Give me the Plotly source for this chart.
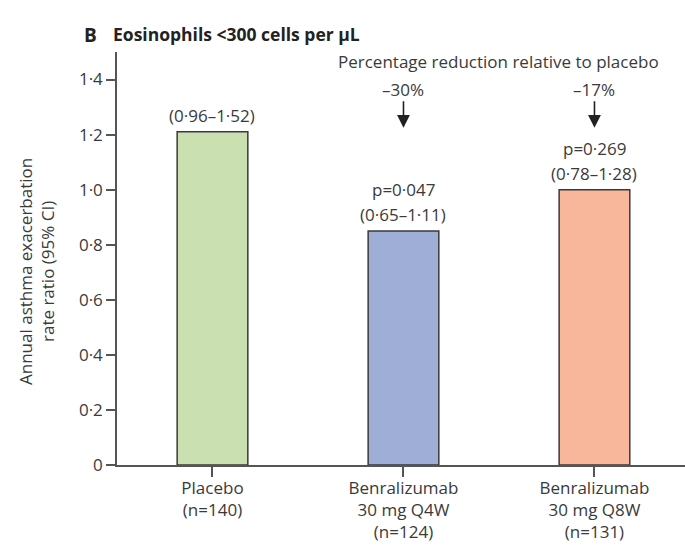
import plotly.graph_objects as go

# Data
groups = ["Placebo", "Benralizumab 30 mg Q4W", "Benralizumab 30 mg Q8W"]
group_labels = ["Placebo<br>(n=140)",
                "Benralizumab<br>30 mg Q4W<br>(n=124)",
                "Benralizumab<br>30 mg Q8W<br>(n=131)"]
rate_ratio = [1.21, 0.85, 1.00]
ci_text = ["(0·96–1·52)", "(0·65–1·11)", "(0·78–1·28)"]
p_text = ["", "p=0·047", "p=0·269"]
reduction_text = ["", "–30%", "–17%"]
bar_colors = ["#cbe0b1", "#9eaed6", "#f8b69a"]
y_ticks = [0, 0.2, 0.4, 0.6, 0.8, 1.0, 1.2, 1.4]

W, H = 685, 549
ML, MR, MT, MB = 117, 0, 52, 84
FONT = "Open Sans"
TXT = "#3a3a3a"
FS = 17

def dot(v):
    return "0" if v == 0 else f"{v:.1f}".replace(".", "·")

fig = go.Figure(go.Bar(
    x=list(range(len(groups))),
    y=rate_ratio,
    width=0.37,
    marker=dict(color=bar_colors, line=dict(color="#3a3a3a", width=1.5)),
    hoverinfo="skip",
))

annotations = []
for i, v in enumerate(rate_ratio):
    # confidence interval just above the bar, p-value on the line above it
    annotations.append(dict(x=i, y=v, xref="x", yref="y", text=ci_text[i],
                            showarrow=False, yanchor="bottom", yshift=3,
                            font=dict(size=FS, color=TXT, family=FONT)))
    if p_text[i]:
        annotations.append(dict(x=i, y=v, xref="x", yref="y", text=p_text[i],
                                showarrow=False, yanchor="bottom", yshift=28,
                                font=dict(size=FS, color=TXT, family=FONT)))
    if reduction_text[i]:
        annotations.append(dict(x=i, y=1.225, xref="x", yref="y", ax=0, ay=-28,
                                text="", showarrow=True, arrowhead=2,
                                arrowsize=1.6, arrowwidth=1.6, arrowcolor="#222222"))
        annotations.append(dict(x=i, y=1.365, xref="x", yref="y",
                                text=reduction_text[i], showarrow=False,
                                font=dict(size=FS, color=TXT, family=FONT)))

annotations.append(dict(x=1.5, y=1.465, xref="x", yref="y",
                        text="Percentage reduction relative to placebo",
                        showarrow=False, font=dict(size=FS, color=TXT, family=FONT)))

plot_w = W - ML - MR
plot_h = H - MT - MB
annotations.append(dict(x=(36 - ML) / plot_w, y=(H - MB - 272) / plot_h,
                        xref="paper", yref="paper", textangle=-90,
                        xanchor="center", yanchor="middle",
                        text="Annual asthma exacerbation<br>rate ratio (95% CI)",
                        showarrow=False, font=dict(size=FS, color=TXT, family=FONT)))
annotations.append(dict(x=(82 - ML) / plot_w, y=(H - MB - 20) / plot_h,
                        xref="paper", yref="paper", xanchor="left",
                        text="<b>B</b>", showarrow=False,
                        font=dict(size=19, color="#222222", family=FONT)))
annotations.append(dict(x=(111 - ML) / plot_w, y=(H - MB - 20) / plot_h,
                        xref="paper", yref="paper", xanchor="left",
                        text="<b>Eosinophils &lt;300 cells per μL</b>", showarrow=False,
                        font=dict(size=17.5, color="#222222", family=FONT)))

fig.update_layout(
    width=W, height=H,
    margin=dict(l=ML, r=MR, t=MT, b=MB),
    plot_bgcolor="white", paper_bgcolor="white",
    showlegend=False,
    annotations=annotations,
    font=dict(family=FONT, size=FS, color=TXT),
    xaxis=dict(range=[-0.5, 2.474], tickvals=list(range(len(groups))),
               ticktext=group_labels, showline=True, linecolor="#555555",
               linewidth=1.5, ticks="outside", tickson="boundaries",
               ticklen=10, tickwidth=1.5, tickcolor="#555555",
               ticklabelstandoff=-3,
               showgrid=False, zeroline=False, fixedrange=True),
    yaxis=dict(range=[0, 1.5], tickvals=y_ticks, ticktext=[dot(v) for v in y_ticks],
               showline=True, linecolor="#555555", linewidth=1.5,
               ticks="outside", ticklen=9, tickwidth=1.5, tickcolor="#555555",
               ticklabelstandoff=0,
               showgrid=False, zeroline=False, fixedrange=True),
)

fig.write_html("out.html")
